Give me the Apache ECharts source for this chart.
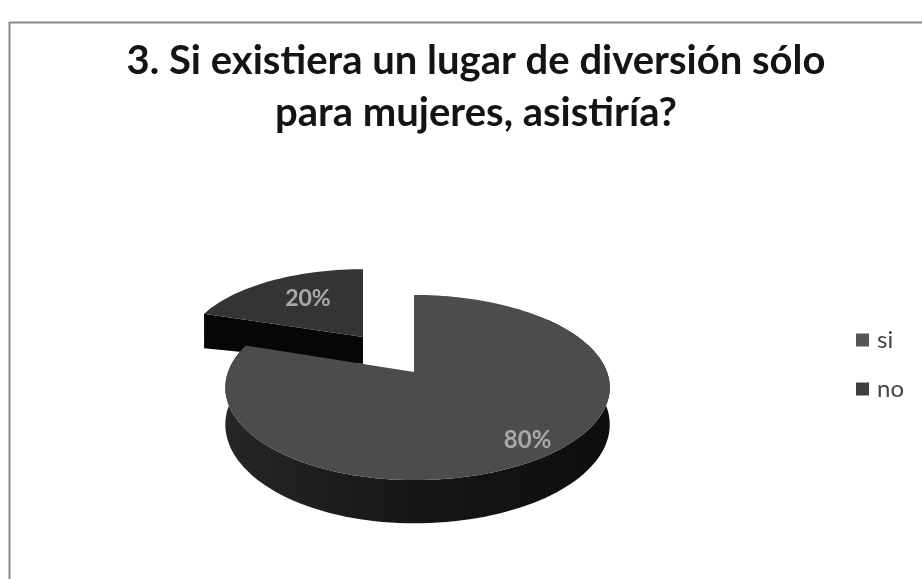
<!DOCTYPE html>
<html>
<head>
<meta charset="utf-8">
<style>html,body{margin:0;padding:0;background:#fff}#chart{width:922px;height:579px}</style>
<script src="https://cdn.jsdelivr.net/npm/echarts@6/dist/echarts.min.js"></script>
</head>
<body>
<div id="chart"></div>
<script>
// Survey answers, in percent
const categories = ['si', 'no'];
const answers = [80, 20];
const chartTitle = '3. Si existiera un lugar de diversión sólo\npara mujeres, asistiría?';

// Pseudo-3D disk: the flat pie is tilted with a simple perspective divide
const disk = { cx: 414, cy: 372, rxLeft: 186, rxRight: 193, ry: 90, k: 0.1676, depth: 36 };
const total = answers.reduce((a, b) => a + b, 0);
const startOf = i => answers.slice(0, i).reduce((a, b) => a + b, 0) / total * 360;

// Disk coordinates (angle clockwise from the top, radius 0..1) to screen
function project(angleDeg, r, drop, pose) {
  const a = angleDeg * Math.PI / 180;
  const u = Math.sin(a) * r, v = -Math.cos(a) * r;
  const w = 1 / (1 - disk.k * v);
  const rx = u < 0 ? disk.rxLeft : disk.rxRight;
  return [
    pose.x + rx * u * w * pose.sx,
    pose.y + (disk.ry * v * w + drop * w) * pose.sy
  ];
}
function arc(from, to, r, drop, pose) {
  const pts = [];
  const steps = Math.ceil(Math.abs(to - from) / 2);
  for (let i = 0; i <= steps; i++) pts.push(project(from + (to - from) * i / steps, r, drop, pose));
  return pts;
}

const poses = {
  si: { x: disk.cx, y: disk.cy, sx: 1, sy: 1 },
  no: { x: 363, y: 337, sx: 0.945, sy: 0.88 }
};
const looks = {
  si: { top: '#4c4c4c', labelR: 0.84, labelDx: 6, labelDy: -1, label: 24 },
  no: { top: '#343434', labelR: 0.62, labelDx: 4, labelDy: -2, label: 23 }
};
const sideFill = {
  type: 'linear', x: 0, y: 0, x2: 1, y2: 0,
  colorStops: [{ offset: 0, color: '#262626' }, { offset: 0.5, color: '#161616' }, { offset: 1, color: '#0e0e0e' }]
};

function sliceItem(index, value) {
  const name = categories[index];
  const pose = poses[name], look = looks[name];
  const from = startOf(index), to = from + value / total * 360;
  const mid = (from + to) / 2;
  const children = [];
  if (name === 'si') {
    // Outer wall of the large slice, visible along the front of the rim
    const lower = arc(50, to, 1, disk.depth, pose);
    const upper = arc(to, 50, 1, 0, pose);
    children.push({ type: 'polygon', shape: { points: lower.concat(upper) }, style: { fill: sideFill } });
  } else {
    // Cut wall of the pulled-out slice, facing the viewer
    const rim = project(from, 1, 0, pose), apex = project(0, 0, 0, pose);
    const rimLow = project(from, 1, disk.depth * 1.15, pose), apexLow = project(0, 0, disk.depth * 0.85, pose);
    children.push({ type: 'polygon', shape: { points: [rim, apex, apexLow, rimLow] }, style: { fill: '#060606' } });
  }
  const face = [project(0, 0, 0, pose)].concat(arc(from, to, 1, 0, pose));
  children.push({ type: 'polygon', shape: { points: face }, style: { fill: look.top } });
  const at = project(mid, look.labelR, 0, pose);
  children.push({
    type: 'text',
    style: {
      x: at[0] + look.labelDx, y: at[1] + look.labelDy, text: value + '%', fill: '#a9a9a9',
      font: 'bold ' + look.label + 'px Lato', textAlign: 'center', textVerticalAlign: 'middle'
    }
  });
  return { type: 'group', children };
}

const legendColors = { si: '#555555', no: '#404040' };
// The pulled-out slice is painted first so the large slice overlaps its wall
const paintOrder = { si: 2, no: 1 };

const chart = echarts.init(document.getElementById('chart'), null, { renderer: 'canvas' });
chart.setOption({
  animation: false,
  backgroundColor: '#ffffff',
  title: {
    text: chartTitle,
    left: 471, top: 30, textAlign: 'center',
    textStyle: { fontFamily: 'Lato', fontWeight: 'bold', fontSize: 40, lineHeight: 52, color: '#141414' }
  },
  legend: {
    orient: 'vertical', left: 856, top: 328, padding: 0,
    itemWidth: 13, itemHeight: 13, itemGap: 25, icon: 'rect',
    data: categories,
    textStyle: { fontFamily: 'Lato', fontSize: 24, color: '#444444', padding: [0, 0, 0, 3] }
  },
  graphic: [
    { type: 'line', shape: { x1: 9.5, y1: 22, x2: 9.5, y2: 579 }, style: { stroke: '#8a8a8a', lineWidth: 2 }, silent: true },
    { type: 'line', shape: { x1: 9, y1: 22.5, x2: 922, y2: 22.5 }, style: { stroke: '#8a8a8a', lineWidth: 2 }, silent: true }
  ],
  series: categories.map((name, i) => ({
    type: 'custom',
    name,
    coordinateSystem: 'none',
    z: paintOrder[name],
    itemStyle: { color: legendColors[name] },
    data: [answers[i]],
    renderItem: (params, api) => sliceItem(i, api.value(0))
  }))
});
</script>
</body>
</html>
